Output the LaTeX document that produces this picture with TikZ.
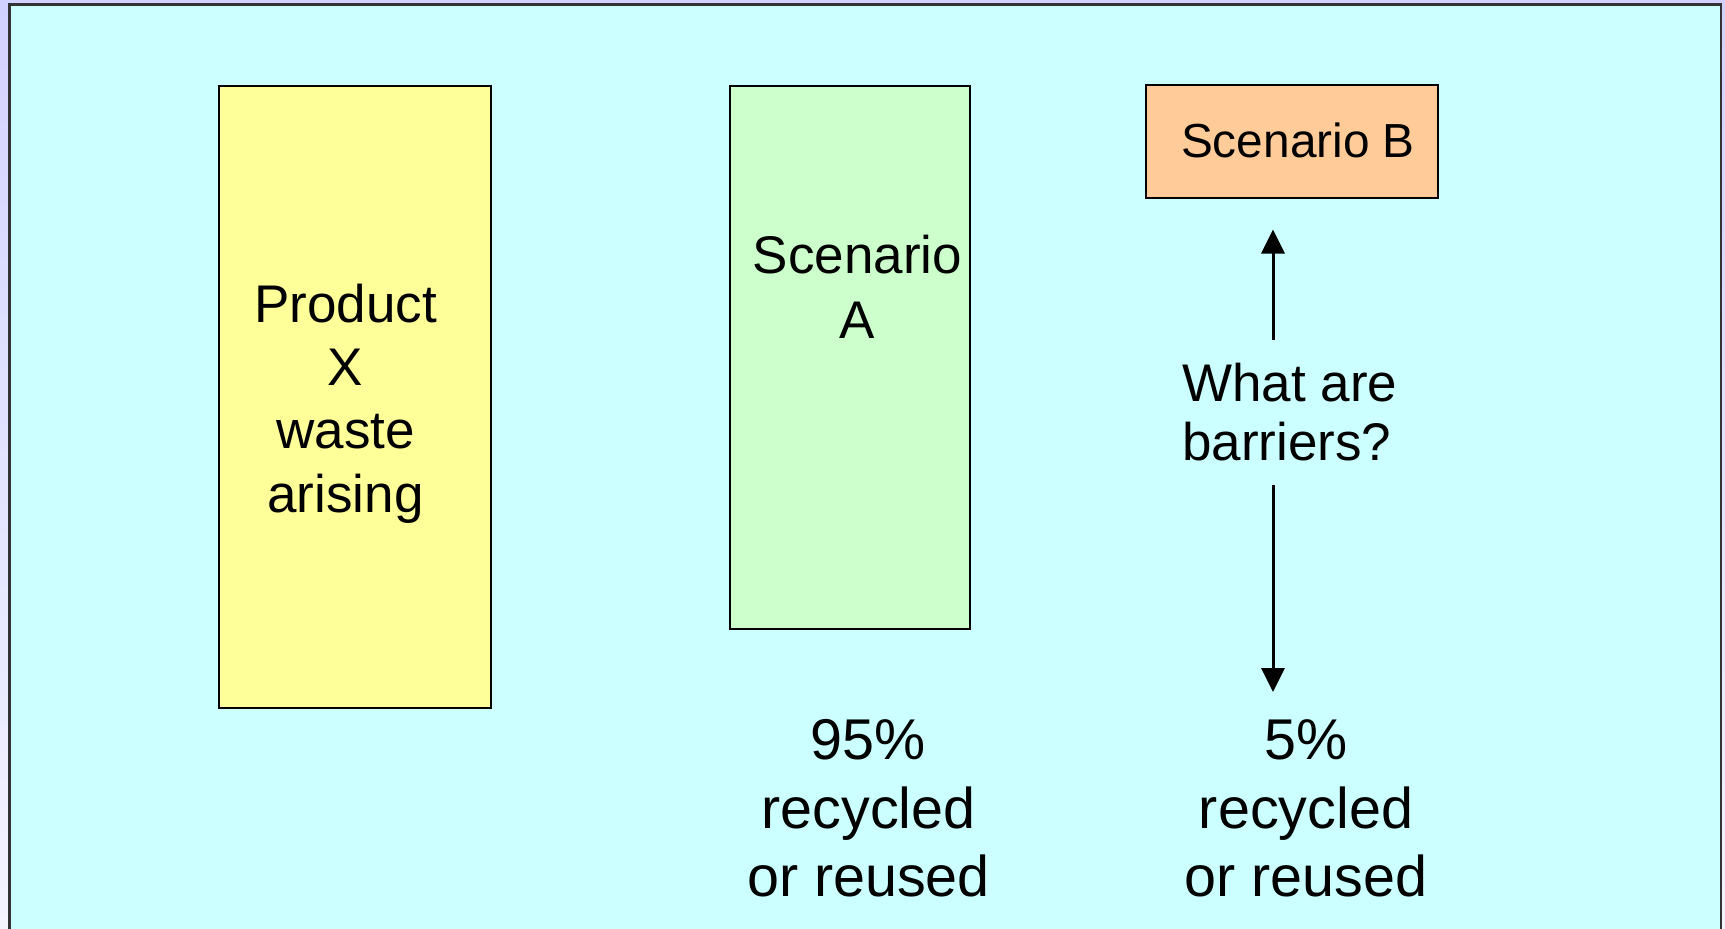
\documentclass[tikz,border=0pt]{standalone}
\usepackage{fontspec}
\setmainfont{Liberation Sans}
\usetikzlibrary{arrows.meta}
\definecolor{margtop}{HTML}{D2D2FF}
\definecolor{margbot}{HTML}{F4F4FF}
\definecolor{panel}{HTML}{CCFFFF}
\definecolor{framec}{HTML}{333333}
\definecolor{yellowc}{HTML}{FFFF99}
\definecolor{greenc}{HTML}{CCFFCC}
\definecolor{orangec}{HTML}{FFCC99}
\tikzset{
  box/.style={draw=black, line width=1.5pt, inner sep=0pt, anchor=north west},
  txt/.style={inner sep=0pt, align=center, text=black},
  arr/.style={draw=black, line width=3pt, -{Triangle[length=24pt,width=23pt]}},
}
\begin{document}
\begin{tikzpicture}[x=1pt,y=-1pt]
\useasboundingbox (0,0) rectangle (1725,929);
\shade[top color=margtop, bottom color=margbot] (0,0) rectangle (1725,929);
\draw[fill=panel, draw=framec, line width=2.2pt] (9.5,4.5) rectangle (1721,940);
% boxes
\node[box, fill=yellowc, minimum width=272pt, minimum height=622pt] (X) at (218,85) {};
\node[box, fill=greenc, minimum width=240pt, minimum height=543pt] (A) at (729,85) {};
\node[box, fill=orangec, minimum width=292pt, minimum height=113pt] (B) at (1145,84) {};
% texts (base anchor = baseline of last line)
\node[txt, anchor=base, font=\fontsize{53}{63.3}\selectfont] (Xt) at (345.5,512) {Product\\X\\waste\\arising};
\node[txt, anchor=base, font=\fontsize{53}{65}\selectfont] (At) at (857.5,338.3) {Scenario\\A};
\node[txt, anchor=base, font=\fontsize{47.8}{56}\selectfont] (Bt) at (1298,157) {Scenario B};
\node[txt, align=left, anchor=base west, font=\fontsize{53}{59}\selectfont] (Q) at (1182,460.7) {What are\\barriers?};
\node[txt, anchor=base, font=\fontsize{57.5}{68.7}\selectfont] (P95) at (868.5,896.7) {95\%\\recycled\\or reused};
\node[txt, anchor=base, font=\fontsize{57.5}{68.7}\selectfont] (P5) at (1306,896.7) {5\%\\recycled\\or reused};
% arrows
\coordinate (upS) at (1273,340);
\coordinate (dnS) at (1273,485);
\coordinate (dnE) at (1273,692);
\draw[arr, shorten >=31pt] (upS) -- (B.south -| upS);
\draw[arr] (dnS) -- (dnE);
\end{tikzpicture}
\end{document}
